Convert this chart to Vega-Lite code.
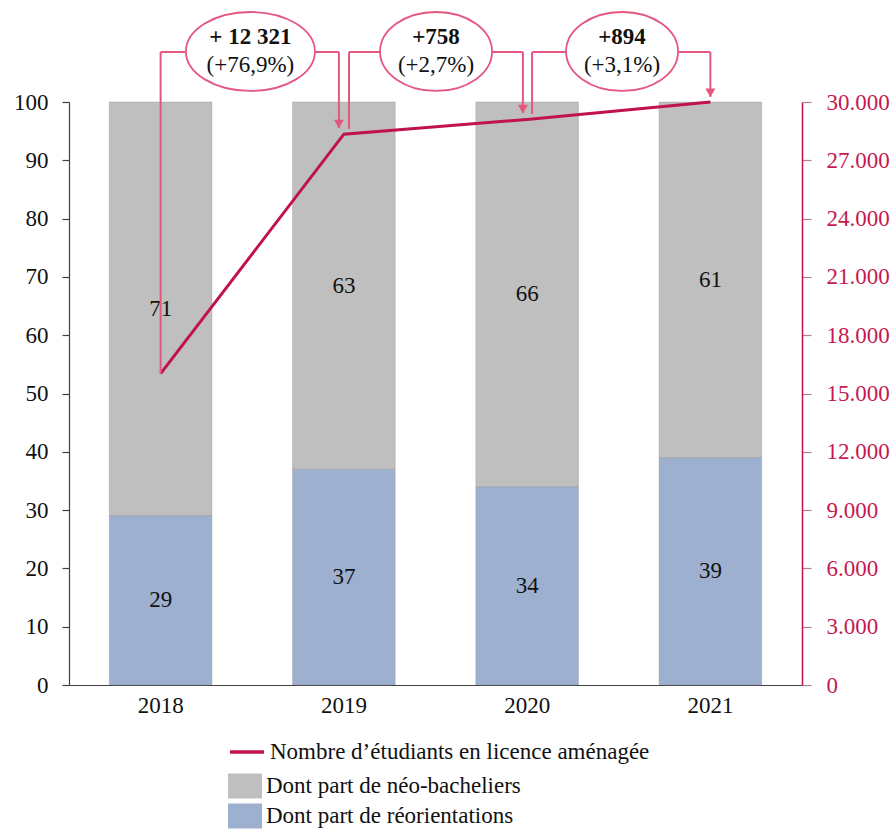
{
  "$schema": "https://vega.github.io/schema/vega-lite/v6.json",
  "width": 733,
  "height": 583,
  "autosize": {"type": "none"},
  "padding": {"left": 69, "top": 102, "right": 91, "bottom": 146},
  "config": {"view": {"stroke": null}, "font": "Liberation Serif", "axis": {"grid": false}},
  "datasets": {
    "parts": [
      {"annee": "2018", "serie": "Dont part de néo-bacheliers", "part": 71},
      {"annee": "2018", "serie": "Dont part de réorientations", "part": 29},
      {"annee": "2019", "serie": "Dont part de néo-bacheliers", "part": 63},
      {"annee": "2019", "serie": "Dont part de réorientations", "part": 37},
      {"annee": "2020", "serie": "Dont part de néo-bacheliers", "part": 66},
      {"annee": "2020", "serie": "Dont part de réorientations", "part": 34},
      {"annee": "2021", "serie": "Dont part de néo-bacheliers", "part": 61},
      {"annee": "2021", "serie": "Dont part de réorientations", "part": 39}
    ],
    "effectifs": [
      {"annee": 2018, "serie": "Nombre d’étudiants en licence aménagée", "effectif": 16022},
      {"annee": 2019, "serie": "Nombre d’étudiants en licence aménagée", "effectif": 28343},
      {"annee": 2020, "serie": "Nombre d’étudiants en licence aménagée", "effectif": 29101},
      {"annee": 2021, "serie": "Nombre d’étudiants en licence aménagée", "effectif": 29995}
    ],
    "ecarts": [
      {"ecart": "+ 12 321", "taux": "(+76,9%)", "x_depart": 2018, "x_centre": 2018.49, "x_arrivee": 2018.973, "y_depart": 16022, "y_arrivee": 28660, "grand": 1},
      {"ecart": "+758", "taux": "(+2,7%)", "x_depart": 2019.028, "x_centre": 2019.503, "x_arrivee": 2019.977, "y_depart": 28620, "y_arrivee": 29430, "grand": 0},
      {"ecart": "+894", "taux": "(+3,1%)", "x_depart": 2020.027, "x_centre": 2020.518, "x_arrivee": 2021, "y_depart": 29380, "y_arrivee": 30260, "grand": 0}
    ]
  },
  "layer": [
    {
      "data": {"name": "parts"},
      "layer": [
        {
          "mark": {"type": "bar", "stroke": "#8f8f8f", "strokeWidth": 0.6, "strokeOpacity": 0.6},
          "encoding": {
            "x": {
              "field": "annee", "type": "nominal",
              "scale": {"paddingInner": 0.44, "paddingOuter": 0.22},
              "axis": {"title": null, "labelAngle": 0, "ticks": false, "labelFontSize": 23, "labelPadding": 9, "labelColor": "#111111", "domainColor": "#404040", "domainWidth": 1.2}
            },
            "y": {
              "field": "part", "type": "quantitative", "stack": "zero",
              "scale": {"domain": [0, 100], "nice": false},
              "axis": {"title": null, "values": [0, 10, 20, 30, 40, 50, 60, 70, 80, 90, 100], "labelFontSize": 23, "labelPadding": 14, "labelColor": "#111111", "tickSize": 7, "tickColor": "#404040", "domainColor": "#404040", "domainWidth": 1.2, "tickWidth": 1.2}
            },
            "color": {
              "field": "serie", "type": "nominal",
              "scale": {
                "domain": ["Dont part de néo-bacheliers", "Dont part de réorientations"],
                "range": ["#BFBFBF", "#9DB0CF"]
              },
              "legend": {
                "orient": "none", "legendX": 159, "legendY": 667, "title": null, "direction": "vertical",
                "symbolType": "M-1,-0.74H1V0.74H-1Z", "symbolSize": 1156, "symbolStrokeWidth": 0, "symbolOpacity": 1,
                "labelFontSize": 23, "labelOffset": 4, "rowPadding": -2, "labelLimit": 700, "labelColor": "#111111"
              }
            },
            "order": {"field": "serie", "sort": "descending"}
          }
        },
        {
          "transform": [
            {"stack": "part", "groupby": ["annee"], "sort": [{"field": "serie", "order": "descending"}], "as": ["bas", "haut"]},
            {"fold": ["bas", "haut"], "as": ["bord", "valeur"]},
            {"aggregate": [{"op": "mean", "field": "valeur", "as": "milieu"}, {"op": "max", "field": "part", "as": "part"}], "groupby": ["annee", "serie"]}
          ],
          "mark": {"type": "text", "fontSize": 23, "color": "#111111", "baseline": "middle"},
          "encoding": {
            "x": {"field": "annee", "type": "nominal"},
            "y": {"field": "milieu", "type": "quantitative", "scale": {"domain": [0, 100], "nice": false}},
            "text": {"field": "part", "type": "quantitative"}
          }
        }
      ]
    },
    {
      "data": {"name": "effectifs"},
      "mark": {"type": "line", "strokeWidth": 3},
      "encoding": {
        "x": {"field": "annee", "type": "quantitative", "scale": {"domain": [2017.5, 2021.5], "nice": false, "zero": false}, "axis": null},
        "y": {
          "field": "effectif", "type": "quantitative",
          "scale": {"domain": [0, 30000], "nice": false},
          "axis": {
            "orient": "right", "title": null,
            "values": [0, 3000, 6000, 9000, 12000, 15000, 18000, 21000, 24000, 27000, 30000],
            "labelExpr": "replace(format(datum.value, ','), ',', '.')",
            "labelFontSize": 23, "labelPadding": 15, "labelColor": "#C41A50",
            "tickSize": 9, "tickColor": "#B07F93", "tickWidth": 1.2,
            "domainColor": "#C0134B", "domainWidth": 1.5
          }
        },
        "stroke": {
          "field": "serie", "type": "nominal",
          "scale": {"domain": ["Nombre d’étudiants en licence aménagée"], "range": ["#C0134B"]},
          "legend": {
            "orient": "none", "legendX": 159, "legendY": 631, "title": null, "direction": "vertical",
            "symbolType": "stroke", "symbolSize": 1156, "symbolStrokeWidth": 3.5, "symbolOpacity": 1,
            "labelFontSize": 23, "labelOffset": 4, "labelLimit": 700, "labelColor": "#111111"
          }
        }
      }
    },
    {
      "data": {"name": "ecarts"},
      "layer": [
        {
          "mark": {"type": "rule", "color": "#E4577F", "strokeWidth": 2},
          "encoding": {
            "x": {"field": "x_depart", "type": "quantitative", "scale": {"domain": [2017.5, 2021.5], "nice": false, "zero": false}, "axis": null},
            "x2": {"field": "x_arrivee"},
            "y": {"datum": 32570, "type": "quantitative", "scale": {"domain": [0, 30000], "nice": false}, "axis": null}
          }
        },
        {
          "mark": {"type": "rule", "color": "#E4577F", "strokeWidth": 2},
          "encoding": {
            "x": {"field": "x_depart", "type": "quantitative", "scale": {"domain": [2017.5, 2021.5], "nice": false, "zero": false}, "axis": null},
            "y": {"field": "y_depart", "type": "quantitative", "scale": {"domain": [0, 30000], "nice": false}, "axis": null},
            "y2": {"datum": 32570}
          }
        },
        {
          "mark": {"type": "rule", "color": "#E4577F", "strokeWidth": 2},
          "encoding": {
            "x": {"field": "x_arrivee", "type": "quantitative", "scale": {"domain": [2017.5, 2021.5], "nice": false, "zero": false}, "axis": null},
            "y": {"field": "y_arrivee", "type": "quantitative", "scale": {"domain": [0, 30000], "nice": false}, "axis": null},
            "y2": {"datum": 32570}
          }
        },
        {
          "mark": {"type": "point", "fill": "#FFFFFF", "fillOpacity": 1, "stroke": "#E4577F", "strokeWidth": 1.8, "opacity": 1},
          "encoding": {
            "x": {"field": "x_centre", "type": "quantitative", "scale": {"domain": [2017.5, 2021.5], "nice": false, "zero": false}, "axis": null},
            "y": {"datum": 32600, "type": "quantitative", "scale": {"domain": [0, 30000], "nice": false}, "axis": null},
            "shape": {
              "condition": {"test": "datum.grand === 1", "value": "M-1,0A1,0.612,0,1,1,1,0A1,0.612,0,1,1,-1,0Z"},
              "value": "M-1,0A1,0.705,0,1,1,1,0A1,0.705,0,1,1,-1,0Z"
            },
            "size": {"condition": {"test": "datum.grand === 1", "value": 16641}, "value": 12544}
          }
        },
        {
          "mark": {"type": "text", "fontSize": 23, "fontWeight": "bold", "color": "#111111", "baseline": "middle"},
          "encoding": {
            "x": {"field": "x_centre", "type": "quantitative", "scale": {"domain": [2017.5, 2021.5], "nice": false, "zero": false}, "axis": null},
            "y": {"datum": 33320, "type": "quantitative", "scale": {"domain": [0, 30000], "nice": false}, "axis": null},
            "text": {"field": "ecart", "type": "nominal"}
          }
        },
        {
          "mark": {"type": "text", "fontSize": 23, "color": "#111111", "baseline": "middle"},
          "encoding": {
            "x": {"field": "x_centre", "type": "quantitative", "scale": {"domain": [2017.5, 2021.5], "nice": false, "zero": false}, "axis": null},
            "y": {"datum": 31900, "type": "quantitative", "scale": {"domain": [0, 30000], "nice": false}, "axis": null},
            "text": {"field": "taux", "type": "nominal"}
          }
        },
        {
          "mark": {"type": "point", "shape": "triangle-down", "filled": true, "color": "#E4577F", "opacity": 1, "size": 100, "yOffset": -4},
          "encoding": {
            "x": {"field": "x_arrivee", "type": "quantitative", "scale": {"domain": [2017.5, 2021.5], "nice": false, "zero": false}, "axis": null},
            "y": {"field": "y_arrivee", "type": "quantitative", "scale": {"domain": [0, 30000], "nice": false}, "axis": null}
          }
        }
      ]
    }
  ],
  "resolve": {"scale": {"x": "independent", "y": "independent"}, "axis": {"x": "independent", "y": "independent"}}
}
